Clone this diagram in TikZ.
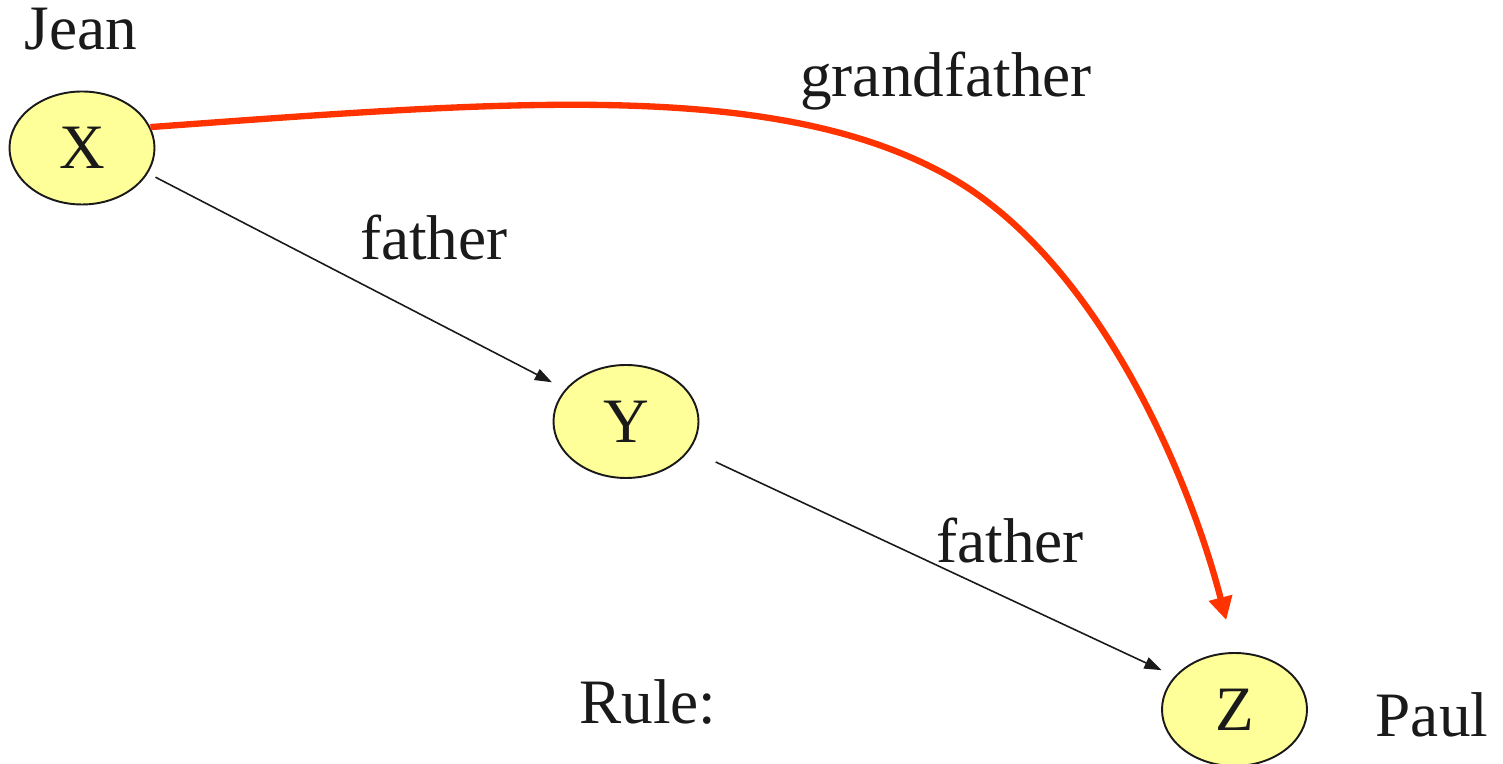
\documentclass[tikz,border=0pt]{standalone}
\usepackage{fontspec}
\setmainfont{LiberationSerif}[Extension=.ttf, UprightFont=*-Regular, BoldFont=*-Bold]
\usepackage{tikz}
\usetikzlibrary{arrows.meta, shapes.geometric}
\definecolor{ncol}{HTML}{FFFF99}
\definecolor{rcol}{HTML}{FF3300}
\definecolor{tcol}{HTML}{1A1A1A}

\begin{document}
\begin{tikzpicture}[
  bigtext/.style={font=\fontsize{36}{43}\selectfont, text=tcol},
  var/.style={ellipse, draw=tcol, line width=1.1pt, fill=ncol, inner sep=0pt,
    minimum width=2.9cm, minimum height=2.26cm, bigtext},
  rel/.style={-{Triangle[length=3.4mm, width=2.4mm]}, draw=tcol, line width=0.9pt},
  derived/.style={-{Triangle[length=4.6mm, width=4.6mm]}, draw=rcol, line width=3.6pt}
]
\useasboundingbox (0,0) rectangle (30.06,15.28);

% the three variables
\node[var] (X) at (1.64,12.32) {X};
\node[var] (Y) at (12.52,6.85) {Y};
\node[var] (Z) at (24.69,1.09) {Z};

% names and labels
\node[bigtext, anchor=base] (jean) at (1.62,14.28) {Jean};
\node[bigtext, anchor=base] (paul) at (28.64,0.54) {Paul};
\node[bigtext, anchor=base] (lxy) at (8.68,10.08) {father};
\node[bigtext, anchor=base] (lyz) at (20.2,4.02) {father};
\node[bigtext, anchor=base] (lxz) at (18.92,13.34) {grandfather};
\node[bigtext, anchor=base] (rule) at (12.96,0.8) {Rule:};

% facts
\draw[rel, shorten <=0.17cm, shorten >=0.3cm] (X.-21) -- (Y.152);
\draw[rel, shorten <=0.57cm, shorten >=0.29cm] (Y.-24.5) -- (Z.151);

% inferred
\draw[derived, shorten >=0.66cm] (X.17)
  .. controls (10.10,13.25) and (15.52,13.72) .. (19.0,11.74)
  .. controls (21.96,10.06) and (23.78,5.76) .. (Z.north);

\end{tikzpicture}
\end{document}
